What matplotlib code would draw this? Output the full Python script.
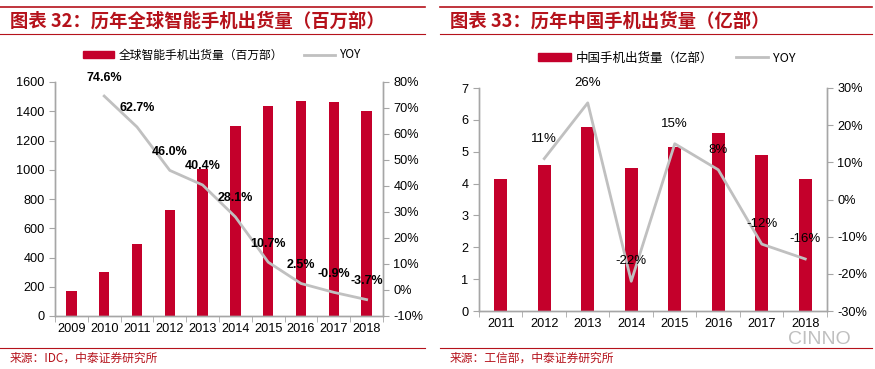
import matplotlib
matplotlib.use("Agg")
import matplotlib.pyplot as plt
from matplotlib.lines import Line2D
from matplotlib.patches import Patch

plt.rcParams['font.family'] = ['Liberation Sans', 'Noto Sans CJK SC', 'DejaVu Sans']

# ---- data: left panel (global smartphone shipments, million units) ----
years_global = ['2009', '2010', '2011', '2012', '2013', '2014', '2015', '2016', '2017', '2018']
shipments_global = [174, 300, 494, 725, 1004, 1301, 1437, 1473, 1465, 1405]
yoy_global_years = ['2010', '2011', '2012', '2013', '2014', '2015', '2016', '2017', '2018']
yoy_global = [74.6, 62.7, 46.0, 40.4, 28.1, 10.7, 2.5, -0.9, -3.7]

# ---- data: right panel (China phone shipments, 100 million units) ----
years_china = ['2011', '2012', '2013', '2014', '2015', '2016', '2017', '2018']
shipments_china = [4.14, 4.58, 5.79, 4.50, 5.16, 5.60, 4.89, 4.14]
yoy_china_years = ['2012', '2013', '2014', '2015', '2016', '2017', '2018']
yoy_china = [11, 26, -22, 15, 8, -12, -16]

RED = '#c4002b'
GRAY_LINE = '#c0c0c0'
AXIS = '#a6a6a6'
TITLE_RED = '#b5121b'
CJK = ['Noto Sans CJK SC', 'DejaVu Sans']

W, H = 875, 369
fig = plt.figure(figsize=(W / 100, H / 100), dpi=100)


def px_axes(x0, y_top, x1, y_bottom):
    return fig.add_axes([x0 / W, 1 - y_bottom / H, (x1 - x0) / W, (y_bottom - y_top) / H])


def style(ax, ax2):
    for a in (ax, ax2):
        a.spines['top'].set_visible(False)
        for s in ('left', 'right', 'bottom'):
            a.spines[s].set_color(AXIS)
            a.spines[s].set_linewidth(1.0)
        a.tick_params(colors='black', labelsize=9.2, length=4, width=0.8)
        a.tick_params(axis='both', color=AXIS)
    ax.tick_params(axis='x', length=0, pad=5)


def header(x0, x1, title, source):
    fig.add_artist(Line2D([x0 / W, x1 / W], [1 - 7 / H, 1 - 7 / H], color=TITLE_RED, lw=1.2))
    fig.add_artist(Line2D([x0 / W, x1 / W], [1 - 34 / H, 1 - 34 / H], color=TITLE_RED, lw=0.8))
    fig.text((x0 + 10) / W, 1 - 21 / H, title, color=TITLE_RED, fontsize=13.2, fontweight='bold',
             va='center', ha='left', family=CJK)
    fig.add_artist(Line2D([x0 / W, x1 / W], [1 - 348 / H, 1 - 348 / H], color=TITLE_RED, lw=0.8))
    fig.text((x0 + 10) / W, 1 - 358 / H, source, color=TITLE_RED, fontsize=8.5,
             va='center', ha='left', family=CJK)


# ================= left panel =================
header(0, 425, '图表 32：历年全球智能手机出货量（百万部）', '来源：IDC，中泰证券研究所')

ax = px_axes(55, 82, 383, 316)
ax2 = ax.twinx()
x = list(range(len(years_global)))
ax.bar(x, shipments_global, width=0.32, color=RED, zorder=2)
ax.set_xlim(-0.5, len(years_global) - 0.5)
ax.set_ylim(0, 1600)
ax.set_yticks(range(0, 1601, 200))
ax.set_xticks(x)
ax.set_xticklabels(years_global)
ax.set_xticks([i + 0.5 for i in range(-1, len(years_global))], minor=True)
ax.tick_params(axis='x', which='minor', length=4, color=AXIS)

xi = [years_global.index(y) for y in yoy_global_years]
ax2.plot(xi, yoy_global, color=GRAY_LINE, lw=2, zorder=3)
ax2.set_ylim(-10, 80)
ax2.set_yticks(range(-10, 81, 10))
ax2.set_yticklabels([f'{v}%' for v in range(-10, 81, 10)])
for xv, v in zip(xi, yoy_global):
    ax2.annotate(f'{v:.1f}%', (xv, v), xytext=(0, 9), textcoords='offset points',
                 ha='center', va='bottom', fontsize=9, fontweight='bold')
style(ax, ax2)
ax.set_zorder(ax2.get_zorder() - 1)
ax2.patch.set_visible(False)
ax.patch.set_visible(False)

fig.legend(handles=[Patch(color=RED, label='全球智能手机出货量（百万部）'),
                    Line2D([], [], color=GRAY_LINE, lw=2, label='YOY')],
           loc='center', bbox_to_anchor=(222 / W, 1 - 55 / H), ncol=2, frameon=False,
           handlelength=2.6, handleheight=0.6, columnspacing=1.8, handletextpad=0.4,
           prop={'family': CJK, 'size': 8.5})

# ================= right panel =================
header(440, 872, '图表 33：历年中国手机出货量（亿部）', '来源：工信部，中泰证券研究所')

bx = px_axes(479, 88, 827, 311)
bx2 = bx.twinx()
x = list(range(len(years_china)))
bx.bar(x, shipments_china, width=0.3, color=RED, zorder=2)
bx.set_xlim(-0.5, len(years_china) - 0.5)
bx.set_ylim(0, 7)
bx.set_yticks(range(0, 8))
bx.set_xticks(x)
bx.set_xticklabels(years_china)
bx.set_xticks([i + 0.5 for i in range(-1, len(years_china))], minor=True)
bx.tick_params(axis='x', which='minor', length=4, color=AXIS)

xi = [years_china.index(y) for y in yoy_china_years]
bx2.plot(xi, yoy_china, color=GRAY_LINE, lw=2, zorder=3)
bx2.set_ylim(-30, 30)
bx2.set_yticks(range(-30, 31, 10))
bx2.set_yticklabels([f'{v}%' for v in range(-30, 31, 10)])
for xv, v in zip(xi, yoy_china):
    bx2.annotate(f'{v}%', (xv, v), xytext=(0, 10), textcoords='offset points',
                 ha='center', va='bottom', fontsize=9.5)
style(bx, bx2)
bx.set_zorder(bx2.get_zorder() - 1)
bx2.patch.set_visible(False)
bx.patch.set_visible(False)

fig.legend(handles=[Patch(color=RED, label='中国手机出货量（亿部）'),
                    Line2D([], [], color=GRAY_LINE, lw=2, label='YOY')],
           loc='center', bbox_to_anchor=(667 / W, 1 - 58 / H), ncol=2, frameon=False,
           handlelength=2.6, handleheight=0.6, columnspacing=1.8, handletextpad=0.4,
           prop={'family': CJK, 'size': 9})

# watermark
fig.text(788 / W, 1 - 339 / H, 'CINNO', color='#b0b0b0', fontsize=14, alpha=0.8,
         ha='left', va='center', family='Liberation Sans')

fig.savefig('out.png', dpi=100)
